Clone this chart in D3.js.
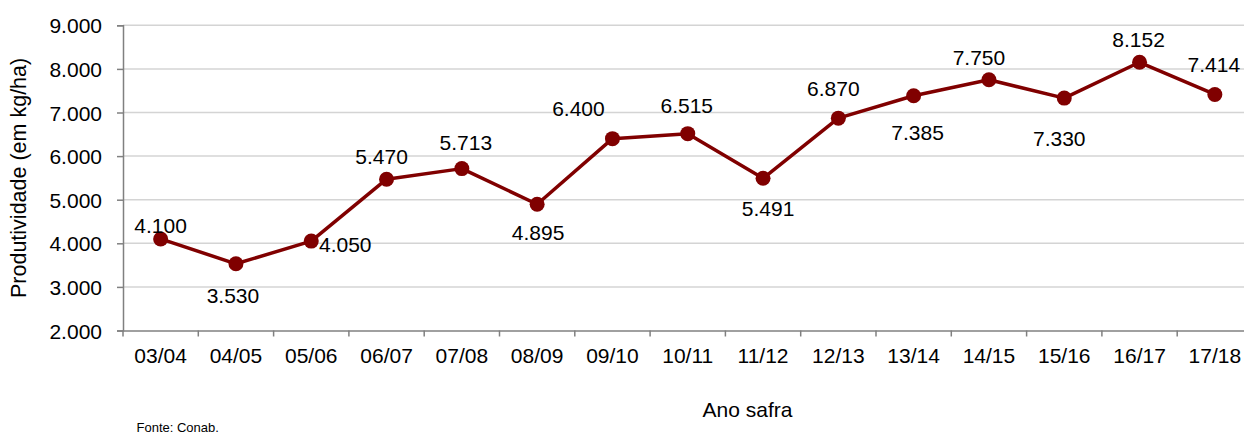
<!DOCTYPE html>
<html>
<head>
<meta charset="utf-8">
<script src="https://cdn.jsdelivr.net/npm/d3@7"></script>
<style>
  html, body { margin: 0; padding: 0; background: #fff; }
  svg { display: block; font-family: "Liberation Sans", Arial, sans-serif; }
</style>
</head>
<body>
<svg id="chart" width="1244" height="435"></svg>
<script>
// ---- data ----
const categories = ["03/04","04/05","05/06","06/07","07/08","08/09","09/10","10/11","11/12","12/13","13/14","14/15","15/16","16/17","17/18"];
const productivity = [4100, 3530, 4050, 5470, 5713, 4895, 6400, 6515, 5491, 6870, 7385, 7750, 7330, 8152, 7414];
const yTicks = [2000, 3000, 4000, 5000, 6000, 7000, 8000, 9000];
const yTitle = "Produtividade (em kg/ha)";
const xTitle = "Ano safra";
const source = "Fonte: Conab.";

// label nudges (label layout, relative to each point)
const labelNudge = [
  [0,-6],[-3,39],[34,11],[-5,-15],[4,-19],[1,36],[-34,-23],[-1,-21],
  [5,38],[-5,-22],[4,44],[-10,-15],[-5,48],[-1,-15],[-1,-22]
];

const fmt = v => d3.format(",")(v).replace(/,/g, ".");
const fmtTick = v => d3.format(",.0f")(v).replace(/,/g, ".");

const svg = d3.select("#chart");
const mLeft = 123, mRight = 1252.5, mTop = 25.3, mBottom = 330.5;

const x = d3.scaleBand().domain(categories).range([mLeft, mRight]);
const y = d3.scaleLinear().domain([2000, 9000]).range([mBottom, mTop]);

// gridlines
svg.append("g").selectAll("line").data(yTicks.filter(t => t > 2000)).join("line")
  .attr("x1", mLeft).attr("x2", mRight)
  .attr("y1", d => y(d)).attr("y2", d => y(d))
  .attr("stroke", "#d4d4d4").attr("stroke-width", 1.5);

// y axis
const yAxis = svg.append("g").attr("transform", `translate(${mLeft},0)`)
  .call(d3.axisLeft(y).tickValues(yTicks).tickFormat(fmtTick).tickSize(6).tickPadding(15));
yAxis.select(".domain").attr("stroke", "#808080").attr("stroke-width", 1.5);
yAxis.selectAll(".tick line").attr("stroke", "#808080").attr("stroke-width", 1.5);
yAxis.selectAll("text").attr("font-size", 21).attr("fill", "#000")
  .attr("font-family", "'Liberation Sans', Arial, sans-serif").attr("dy", "0.36em");

// x axis
const xAxis = svg.append("g").attr("transform", `translate(0,${mBottom})`)
  .call(d3.axisBottom(x).tickSize(0).tickPadding(18));
xAxis.select(".domain").attr("stroke", "#808080").attr("stroke-width", 1.5);
xAxis.selectAll("text").attr("font-size", 21).attr("fill", "#000")
  .attr("font-family", "'Liberation Sans', Arial, sans-serif");
// boundary ticks
svg.append("g").selectAll("line").data(categories).join("line")
  .attr("x1", d => x(d)).attr("x2", d => x(d))
  .attr("y1", mBottom).attr("y2", mBottom + 6)
  .attr("stroke", "#808080").attr("stroke-width", 1.5);

// line
const line = d3.line().x((d, i) => x(categories[i]) + x.bandwidth() / 2).y(d => y(d));
svg.append("path").datum(productivity)
  .attr("d", line).attr("fill", "none")
  .attr("stroke", "#800000").attr("stroke-width", 3.5).attr("stroke-linejoin", "round");

// markers
svg.append("g").selectAll("circle").data(productivity).join("circle")
  .attr("cx", (d, i) => x(categories[i]) + x.bandwidth() / 2)
  .attr("cy", d => y(d))
  .attr("r", 7.5).attr("fill", "#800000");

// data labels
svg.append("g").selectAll("text").data(productivity).join("text")
  .attr("x", (d, i) => x(categories[i]) + x.bandwidth() / 2 + labelNudge[i][0])
  .attr("y", (d, i) => y(d) + labelNudge[i][1])
  .attr("text-anchor", "middle").attr("font-size", 21).attr("fill", "#000")
  .text(d => fmt(d));

// titles
svg.append("text")
  .attr("transform", `translate(26,${(mTop + mBottom) / 2}) rotate(-90)`)
  .attr("text-anchor", "middle").attr("font-size", 21.5).attr("fill", "#000")
  .text(yTitle);
svg.append("text").attr("x", 747.5).attr("y", 417)
  .attr("text-anchor", "middle").attr("font-size", 21).attr("fill", "#000")
  .text(xTitle);
svg.append("text").attr("x", 136.5).attr("y", 432)
  .attr("font-size", 13).attr("fill", "#000")
  .text(source);
</script>
</body>
</html>
